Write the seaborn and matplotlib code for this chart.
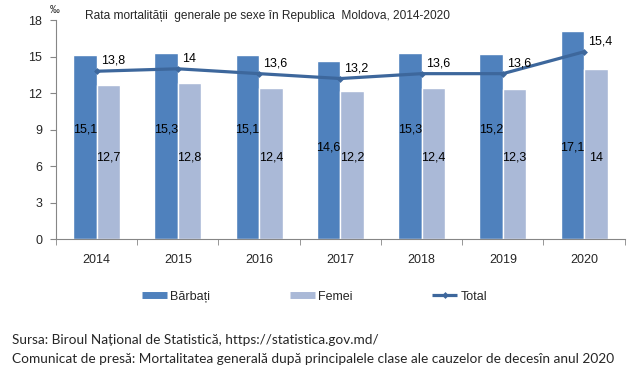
import matplotlib
matplotlib.use("Agg")
import matplotlib.pyplot as plt
from matplotlib.lines import Line2D
import seaborn as sns
import pandas as pd
import numpy as np

years = ["2014", "2015", "2016", "2017", "2018", "2019", "2020"]
barbati = [15.1, 15.3, 15.1, 14.6, 15.3, 15.2, 17.1]
femei = [12.7, 12.8, 12.4, 12.2, 12.4, 12.3, 14.0]
total = [13.8, 14.0, 13.6, 13.2, 13.6, 13.6, 15.4]
series_names = ["Bărbați", "Femei", "Total"]

# label heights (style)
male_label_y = [9.0, 9.0, 9.0, 7.5, 9.0, 9.0, 7.5]
female_label_y = [6.7] * 7

def fmt(v):
    s = f"{v:.1f}".replace(".", ",")
    return s[:-2] if s.endswith(",0") else s

sns.set_style("white")
plt.rcParams["font.family"] = ["Liberation Sans", "DejaVu Sans"]

c_m = "#4F81BD"
c_f = "#AAB9D7"
c_t = "#3D679C"

df = pd.DataFrame({
    "year": years * 2,
    "val": barbati + femei,
    "sex": [series_names[0]] * 7 + [series_names[1]] * 7,
})

fig = plt.figure(figsize=(6.44, 3.73), dpi=100)
ax = fig.add_axes([0.087, 0.359, 0.883, 0.587])
sns.barplot(data=df, x="year", y="val", hue="sex", palette=[c_m, c_f],
            width=0.58, gap=0, ax=ax, legend=False, saturation=1)
x = np.arange(len(years))
sns.lineplot(x=x, y=total, ax=ax, color=c_t, lw=2.3, marker="D", markersize=3.5,
             markeredgewidth=0)

bw = 0.29
for i in range(len(years)):
    ax.text(x[i] - bw / 2, male_label_y[i], fmt(barbati[i]), ha="center", va="center",
            fontsize=9, color="black")
    ax.text(x[i] + bw / 2, female_label_y[i], fmt(femei[i]), ha="center", va="center",
            fontsize=9, color="black")
    ax.text(x[i] + 0.05, total[i] + 0.35, fmt(total[i]), ha="left", va="bottom",
            fontsize=9, color="black")

ax.set_xlim(-0.5, len(years) - 0.5)
ax.set_ylim(0, 18)
ax.set_yticks(range(0, 19, 3))
ax.set_xlabel("")
ax.set_ylabel("")
for s in ["top", "right"]:
    ax.spines[s].set_visible(False)
for s in ["left", "bottom"]:
    ax.spines[s].set_color("#868686")
    ax.spines[s].set_linewidth(0.8)
ax.tick_params(axis="y", left=True, length=4, color="#868686", labelsize=9, pad=6)
ax.tick_params(axis="x", bottom=False, labelsize=9, pad=7)
ax.set_xticks(np.arange(-0.5, len(years), 1.0), minor=True)
ax.tick_params(axis="x", which="minor", bottom=True, length=4, color="#868686")

ax.text(-0.58, 18.4, "‰", fontsize=7, ha="left", va="bottom")
fig.text(0.132, 0.958, "Rata mortalității  generale pe sexe în Republica  Moldova, 2014-2020",
         fontsize=8.6, ha="left", va="center")

handles = [
    Line2D([0], [0], color=c_m, lw=5, solid_capstyle="butt"),
    Line2D([0], [0], color=c_f, lw=5, solid_capstyle="butt"),
    Line2D([0], [0], color=c_t, lw=2.3, marker="D", markersize=3.5, markeredgewidth=0,
           solid_capstyle="butt"),
]
fig.legend(handles, series_names, loc="center", bbox_to_anchor=(0.488, 0.205), ncol=3,
           frameon=False, fontsize=9, handlelength=2.0, handletextpad=0.25,
           columnspacing=6.4)

fig.text(0.018, 0.088, "Sursa: Biroul Național de Statistică, https://statistica.gov.md/",
         fontsize=9.8, family=["Lato", "DejaVu Sans"], ha="left", va="center")
fig.text(0.018, 0.038,
         "Comunicat de presă: Mortalitatea generală după principalele clase ale cauzelor de decesîn anul 2020",
         fontsize=9.8, family=["Lato", "DejaVu Sans"], ha="left", va="center")

fig.savefig("out.png", dpi=100)
